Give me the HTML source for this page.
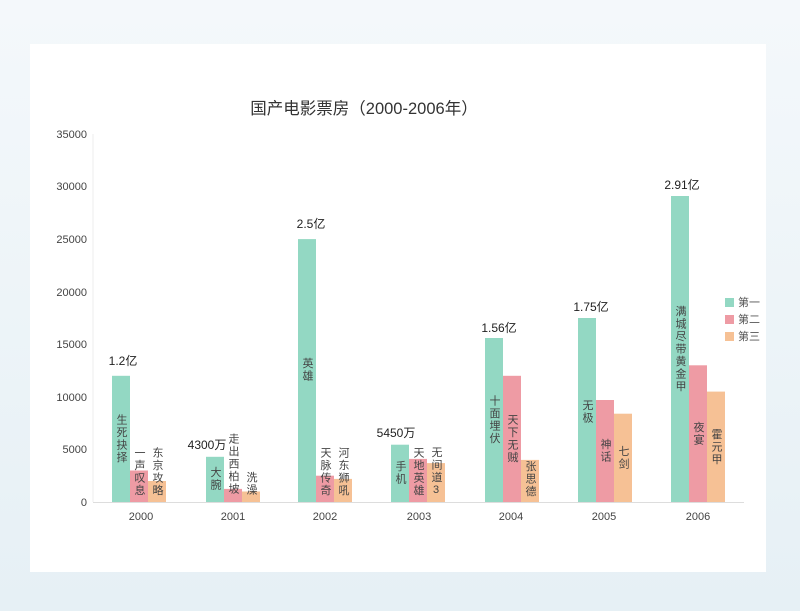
<!DOCTYPE html><html><head><meta charset="utf-8"><style>
html,body{margin:0;padding:0;width:800px;height:611px;overflow:hidden;background:linear-gradient(#f4f8fb,#e6f0f5);}
svg{position:absolute;left:0;top:0;font-family:"Liberation Sans","Noto Sans CJK SC",sans-serif;}
.v{writing-mode:vertical-rl;text-orientation:upright;font-size:11px;fill:#444;text-anchor:middle;dominant-baseline:central;letter-spacing:1.5px}
.t{font-size:12px;fill:#222;text-anchor:middle}
.ax{font-size:11px;fill:#444}
</style></head><body>
<svg width="800" height="611" viewBox="0 0 800 611">
<rect x="30" y="44" width="736" height="528" fill="#fff"/>
<text x="364" y="114" font-size="16.5" fill="#333" text-anchor="middle">国产电影票房（2000-2006年）</text>
<g class="ax" text-anchor="end">
<text x="87" y="506">0</text><text x="87" y="453">5000</text><text x="87" y="401">10000</text><text x="87" y="348">15000</text><text x="87" y="296">20000</text><text x="87" y="243">25000</text><text x="87" y="190">30000</text><text x="87" y="138">35000</text>
</g>
<line x1="93" y1="134" x2="93" y2="502" stroke="#eee"/>
<line x1="93" y1="502.5" x2="744" y2="502.5" stroke="#ddd"/>
<g class="ax" text-anchor="middle">
<text x="141" y="520">2000</text><text x="233" y="520">2001</text><text x="325" y="520">2002</text><text x="419" y="520">2003</text><text x="511" y="520">2004</text><text x="604" y="520">2005</text><text x="698" y="520">2006</text>
</g>
<g fill="#93d8c3">
<rect x="112" y="375.8" width="18" height="126.2"/><rect x="206" y="456.8" width="18" height="45.2"/><rect x="298" y="239.1" width="18" height="262.9"/><rect x="391" y="444.7" width="18" height="57.3"/><rect x="485" y="338" width="18" height="164"/><rect x="578" y="318" width="18" height="184"/><rect x="671" y="196" width="18" height="306"/>
</g>
<g fill="#ee9ba4">
<rect x="130" y="470.5" width="18" height="31.5"/><rect x="224" y="488.9" width="18" height="13.1"/><rect x="316" y="475.7" width="18" height="26.3"/><rect x="409" y="458.9" width="18" height="43.1"/><rect x="503" y="375.8" width="18" height="126.2"/><rect x="596" y="400" width="18" height="102"/><rect x="689" y="365.3" width="18" height="136.7"/>
</g>
<g fill="#f6c195">
<rect x="148" y="481" width="18" height="21"/><rect x="242" y="491.5" width="18" height="10.5"/><rect x="334" y="478.9" width="18" height="23.1"/><rect x="427" y="463.1" width="18" height="38.9"/><rect x="521" y="459.9" width="18" height="42.1"/><rect x="614" y="413.7" width="18" height="88.3"/><rect x="707" y="391.6" width="18" height="110.4"/>
</g>
<g class="t">
<text x="123" y="365">1.2亿</text><text x="207" y="449">4300万</text><text x="311" y="228">2.5亿</text><text x="396" y="437">5450万</text><text x="499" y="332">1.56亿</text><text x="591" y="311">1.75亿</text><text x="682" y="189">2.91亿</text>
</g>
<g class="v">
<text x="121" y="439">生死抉择</text><text x="139" y="472">一声叹息</text><text x="157" y="472">东京攻略</text>
<text x="215" y="479">大腕</text><text x="233" y="464">走出西柏坡</text><text x="251" y="484">洗澡</text>
<text x="307" y="370">英雄</text><text x="325" y="472">天脉传奇</text><text x="343" y="472">河东狮吼</text>
<text x="400" y="473">手机</text><text x="418" y="472">天地英雄</text><text x="436" y="472">无间道3</text>
<text x="494" y="420">十面埋伏</text><text x="512" y="439">天下无贼</text><text x="530" y="479">张思德</text>
<text x="587" y="412">无极</text><text x="605" y="451">神话</text><text x="623" y="458">七剑</text>
<text x="680" y="349">满城尽带黄金甲</text><text x="698" y="434">夜宴</text><text x="716" y="447">霍元甲</text>
</g>
<g font-size="11" fill="#555">
<rect x="725" y="298" width="9" height="9" fill="#93d8c3"/><text x="738" y="306">第一</text>
<rect x="725" y="315" width="9" height="9" fill="#ee9ba4"/><text x="738" y="323">第二</text>
<rect x="725" y="332" width="9" height="9" fill="#f6c195"/><text x="738" y="340">第三</text>
</g>
</svg></body></html>
